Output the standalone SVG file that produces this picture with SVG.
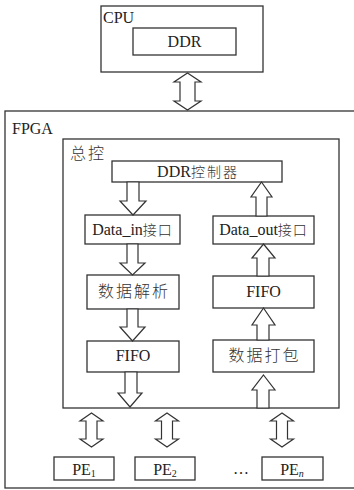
<svg xmlns="http://www.w3.org/2000/svg" width="354" height="490" viewBox="0 0 354 490">
<style>
.box{fill:#fff;stroke:#333;stroke-width:1.3}
.frame{fill:none;stroke:#333;stroke-width:1.3}
.arr{fill:#fff;stroke:#333;stroke-width:1.2;stroke-linejoin:miter}
text{font-family:"Times New Roman","Liberation Serif","DejaVu Serif",serif;font-size:16px;fill:#222}
.c{text-anchor:middle}
.zh{font-family:"Noto Sans CJK SC",sans-serif;font-weight:300;letter-spacing:2px;fill:#333}
</style>
<rect width="354" height="490" fill="#fff"/>
<g id="fpga">
<rect class="frame" x="5" y="111" width="360" height="377"/>
<text x="12" y="134">FPGA</text>
</g>
<g id="cpu">
<rect class="box" x="101" y="6" width="162" height="66"/>
<text x="103" y="23">CPU</text>
</g>
<g id="ddr">
<rect class="box" x="133" y="28" width="103" height="27"/>
<text class="c" x="184.5" y="47">DDR</text>
</g>
<g id="zongkong">
<rect class="frame" x="63" y="139" width="276" height="269"/>
<text x="70" y="159" class="zh" font-size="14">总控</text>
</g>
<g id="ddrctrl">
<rect class="box" x="112" y="161" width="170" height="21"/>
<text class="c" x="198" y="177">DDR<tspan class="zh" font-size="14">控制器</tspan></text>
</g>
<g id="datain">
<rect class="box" x="85" y="215" width="95" height="29"/>
<text class="c" x="132.5" y="235">Data_in<tspan class="zh" font-size="14" style="letter-spacing:1px">接口</tspan></text>
</g>
<g id="parse">
<rect class="box" x="87" y="275" width="92" height="34"/>
<text class="c zh" x="134" y="297" font-size="15">数据解析</text>
</g>
<g id="fifo-in">
<rect class="box" x="87" y="341" width="92" height="31"/>
<text class="c" x="133" y="361">FIFO</text>
</g>
<g id="dataout">
<rect class="box" x="213" y="216" width="101" height="28"/>
<text class="c" x="263.5" y="235">Data_out<tspan class="zh" font-size="14" style="letter-spacing:1px">接口</tspan></text>
</g>
<g id="fifo-out">
<rect class="box" x="213" y="276" width="101" height="32"/>
<text class="c" x="263.5" y="297">FIFO</text>
</g>
<g id="pack">
<rect class="box" x="213" y="340" width="101" height="32"/>
<text class="c zh" x="264.5" y="361" font-size="15">数据打包</text>
</g>
<g id="pe1">
<rect class="box" x="54" y="457" width="60" height="23"/>
<text class="c" x="84" y="475">PE<tspan font-size="10" dy="2">1</tspan></text>
</g>
<g id="pe2">
<rect class="box" x="135" y="457" width="60" height="23"/>
<text class="c" x="165" y="475">PE<tspan font-size="10" dy="2">2</tspan></text>
</g>
<g id="dots">
<text class="c" x="241" y="474">…</text>
</g>
<g id="pen">
<rect class="box" x="262" y="457" width="61" height="23"/>
<text class="c" x="292" y="475">PE<tspan font-size="10" dy="2" font-style="italic">n</tspan></text>
</g>
<g id="connectors">
<polygon class="arr" points="187.5,73 201,82 195,82 195,101 201,101 187.5,110 174,101 180,101 180,82 174,82"/>
<polygon class="arr" points="127,182 139,182 139,201 146,201 133,215 120,201 127,201"/>
<polygon class="arr" points="127,244 138,244 138,263 145,263 132.5,275 120,263 127,263"/>
<polygon class="arr" points="127,309 138,309 138,327 145,327 132.5,341 120,327 127,327"/>
<polygon class="arr" points="125,372 137,372 137,393 142,393 130,407 118,393 125,393"/>
<polygon class="arr" points="261.5,182 272,197 267,197 267,216 256,216 256,197 251,197"/>
<polygon class="arr" points="263.5,244 275,258 269,258 269,276 257,276 257,258 252,258"/>
<polygon class="arr" points="263.5,308 275,325 269,325 269,340 257,340 257,325 252,325"/>
<polygon class="arr" points="263.5,375 275,390 269,390 269,408 257,408 257,390 252,390"/>
<polygon class="arr" points="91.5,413 103,421 97,421 97,439 103,439 91.5,447 80,439 86,439 86,421 80,421"/>
<polygon class="arr" points="167,413 178.5,421 172.5,421 172.5,439 178.5,439 167,447 155.5,439 161.5,439 161.5,421 155.5,421"/>
<polygon class="arr" points="282,413 293.5,421 287.5,421 287.5,439 293.5,439 282,447 270.5,439 276.5,439 276.5,421 270.5,421"/>
</g>
</svg>
